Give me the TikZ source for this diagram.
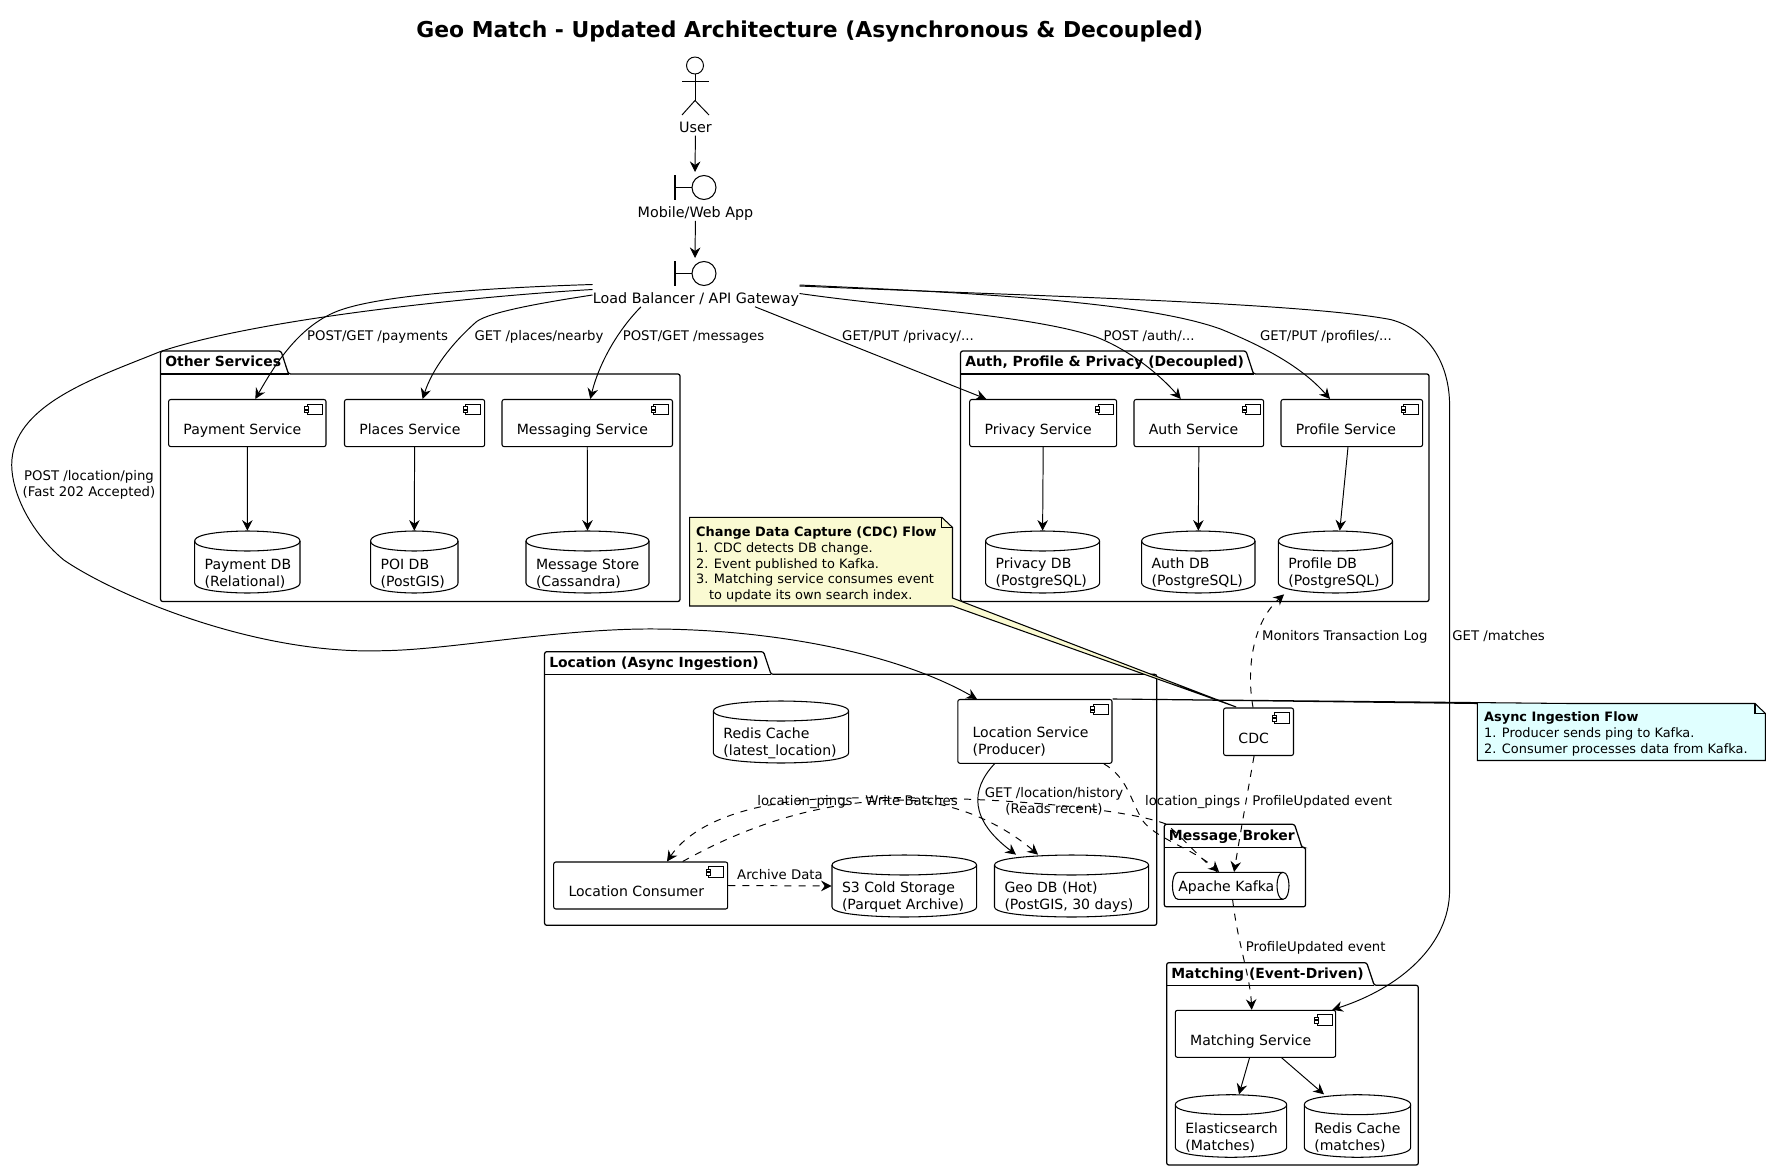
\documentclass[tikz,border=0pt]{standalone}
\usepackage{fontspec}
\setmainfont{DejaVu Sans}
\usetikzlibrary{arrows.meta,calc,fit}
\definecolor{noteyellow}{HTML}{FAFAD2}
\definecolor{notecyan}{HTML}{E0FFFF}
\tikzset{
  x=0.02cm,y=-0.02cm,
  edge/.style={line width=.55pt,-{Stealth[length=6pt,width=6pt,inset=2pt]}},
  dashedge/.style={edge,dash pattern=on 4pt off 4pt},
  shapeline/.style={line width=.6pt},
  comp/.style={draw,shapeline,rounded corners=1.2pt,inner sep=0pt},
  hull/.style={inner sep=0pt},
  boxtext/.style={font=\fontsize{8}{9.65}\selectfont,inner sep=0pt,align=left,anchor=west},
  actortext/.style={font=\fontsize{8.15}{9.65}\selectfont,inner sep=0pt,anchor=center},
  lab/.style={font=\fontsize{7.55}{9.07}\selectfont,inner sep=0pt,text height=.76em,text depth=.24em},
  labmulti/.style={font=\fontsize{7.55}{9.07}\selectfont,inner sep=0pt,align=center},
  notetext/.style={font=\fontsize{7.35}{9.07}\selectfont,inner sep=0pt,align=left,anchor=north west},
  pkgtitle/.style={font=\fontsize{7.93}{9.65}\bfseries\selectfont,inner sep=0pt,anchor=west},
}
% component box: [text drop], name, x1, y1, x2, y2, text
\newcommand{\compbox}[7][7.5]{
  \node[comp,fit={(#3,#4)(#5,#6)}] (#2) {};
  \draw[line width=.5pt,shift={(#2.north east)}] (-19.3,5) rectangle (-4.3,15.5);
  \draw[line width=.5pt,fill=white,shift={(#2.north east)}] (-21.7,7.5) rectangle (-17.7,10);
  \draw[line width=.5pt,fill=white,shift={(#2.north east)}] (-21.7,11) rectangle (-17.7,13.5);
  \node[boxtext] (#2text) at ($(#2.west)+(15,#1)$) {\vphantom{Ay}#7};
}
% database: name, x1, y1, x2, y2, text
\newcommand{\dbbox}[6]{
  \pgfmathsetmacro{\dbw}{#4-#2}
  \pgfmathsetmacro{\dbh}{#5-#3}
  \node[hull,fit={(#2,#3)(#4,#5)}] (#1) {};
  \draw[shapeline,shift={(#2,#3)}] (0,10) .. controls (0,0) and (\dbw/2,0) .. (\dbw/2,0)
    .. controls (\dbw/2,0) and (\dbw,0) .. (\dbw,10) -- (\dbw,\dbh-10)
    .. controls (\dbw,\dbh) and (\dbw/2,\dbh) .. (\dbw/2,\dbh)
    .. controls (\dbw/2,\dbh) and (0,\dbh) .. (0,\dbh-10) -- cycle;
  \draw[shapeline,shift={(#2,#3)}] (0,10) .. controls (0,20) and (\dbw/2,20) .. (\dbw/2,20)
    .. controls (\dbw/2,20) and (\dbw,20) .. (\dbw,10);
  \node[boxtext] (#1text) at ($(#1.west)+(10,11.5)$) {\vphantom{Ay}#6};
}
% package: name, x1, tab top, body top, x2, bottom, tab right, title
\newcommand{\pkgbox}[8]{
  \node[hull,fit={(#2,#3)(#5,#6)}] (#1) {};
  \draw[line width=.7pt,rounded corners=1.2pt] (#2,#4) -- (#2,#3) -- (#7,#3) -- (#7+7.5,#4) -- (#5,#4) -- (#5,#6) -- (#2,#6) -- cycle;
  \draw[line width=.7pt] (#2,#4) -- (#7+7.5,#4);
  \node[pkgtitle] (#1title) at (#2+4.3,#3/2+#4/2+0.5) {\vphantom{Ay}#8};
}
% boundary symbol: centre of the circle
\newcommand{\boundaryicon}[2]{
  \draw[line width=.6pt] (#1-20,#2-12.5) -- (#1-20,#2+12.5);
  \draw[line width=.6pt] (#1-20,#2) -- (#1-3,#2);
  \draw[line width=.6pt] (#1+9,#2) circle (12);
}
\begin{document}
\begin{tikzpicture}
  \useasboundingbox (0,0) rectangle (1771,1173);
  % Titel
  \node[font=\fontsize{12.45}{15}\bfseries\selectfont,inner sep=0pt] (title) at (809.8,32) {Geo Match - Updated Architecture (Asynchronous \& Decoupled)};

  % User
  \draw[line width=.55pt] (695,65.5) circle (8.5);
  \draw[line width=.55pt] (695,74) -- (695,100.5);
  \draw[line width=.55pt] (682,81) -- (709,81);
  \draw[line width=.55pt] (682,115) -- (695,100.5) -- (709,115);
  \node[actortext] (user) at (695.5,128.5) {\vphantom{Ay}User};
  % Mobile/Web App
  \boundaryicon{695}{187.5}
  \coordinate (apptop) at (695,172);
  \node[actortext] (app) at (695.5,213.5) {\vphantom{Ay}Mobile/Web App};
  % Load Balancer
  \boundaryicon{695}{273.5}
  \coordinate (gwtop) at (695,258);
  \node[actortext] (gw) at (696,299.5) {\vphantom{Ay}Load Balancer / API Gateway};

  % Other Services
  \pkgbox{other}{160.6}{351}{374}{680}{601.5}{281}{Other Services}
  \compbox{pay}{168.6}{399.5}{326}{446.6}{Payment Service}
  \compbox{places}{344.5}{399.5}{484.7}{446.6}{Places Service}
  \compbox{msg}{502}{399.5}{672.5}{446.6}{Messaging Service}
  \dbbox{paydb}{194.7}{531}{300}{593}{Payment DB\\(Relational)}
  \dbbox{poidb}{370.6}{531}{458}{593}{POI DB\\(PostGIS)}
  \dbbox{msgdb}{526}{531}{649}{593}{Message Store\\(Cassandra)}

  % Auth, Profile, Privacy
  \pkgbox{auth}{960.6}{351}{374}{1429}{601.5}{1246}{Auth, Profile \& Privacy (Decoupled)}
  \compbox{priv}{969.7}{399.5}{1116.7}{446.6}{Privacy Service}
  \compbox{authsvc}{1134}{399.5}{1263.7}{446.6}{Auth Service}
  \compbox{prof}{1281}{399.5}{1422.6}{446.6}{Profile Service}
  \dbbox{privdb}{985.6}{531}{1099.6}{593}{Privacy DB\\(PostgreSQL)}
  \dbbox{authdb}{1141.6}{531}{1255}{593}{Auth DB\\(PostgreSQL)}
  \dbbox{profdb}{1278.4}{531}{1392.5}{593}{Profile DB\\(PostgreSQL)}

  % Location
  \pkgbox{loc}{544.6}{651.7}{674.3}{1156.7}{925.3}{763.5}{Location (Async Ingestion)}
  \dbbox{redis}{713.4}{701}{848.6}{763}{Redis Cache\\(latest\_location)}
  \compbox[10.4]{locsvc}{957.8}{699.5}{1112}{763.3}{Location Service\\(Producer)}
  \compbox{cons}{553.7}{862}{727.7}{909}{Location Consumer}
  \dbbox{s3}{832}{855}{976.6}{917}{S3 Cold Storage\\(Parquet Archive)}
  \dbbox{geo}{994.5}{855}{1148.6}{917}{Geo DB (Hot)\\(PostGIS, 30 days)}

  % CDC
  \compbox{cdc}{1223.6}{708}{1293.5}{755.5}{CDC}

  % Message Broker
  \pkgbox{broker}{1164.3}{824.3}{847.5}{1305.5}{906.8}{1294.5}{Message Broker}
  \node[hull,fit={(1172.7,872.3)(1288.5,899.3)}] (kafka) {};
  \draw[shapeline] (1178,872.3) -- (1283,872.3) .. controls (1291,872.3) and (1291,899.3) .. (1283,899.3)
    -- (1178,899.3) .. controls (1170.6,899.3) and (1170.6,872.3) .. (1178,872.3) -- cycle;
  \draw[shapeline] (1283,872.3) .. controls (1275,872.3) and (1275,899.3) .. (1283,899.3);
  \node[boxtext] (kafkatext) at (1178,887.5) {\vphantom{Ay}Apache Kafka};

  % Matching
  \pkgbox{match}{1166.7}{962.7}{985.3}{1418.3}{1165}{1366.7}{Matching (Event-Driven)}
  \compbox{matchsvc}{1175.3}{1010.3}{1335.7}{1057.3}{Matching Service}
  \dbbox{elastic}{1175.3}{1094.7}{1286.7}{1157.3}{Elasticsearch\\(Matches)}
  \dbbox{rediscache}{1304.3}{1094.7}{1410.7}{1157.3}{Redis Cache\\(matches)}

  % Notes
  \node[hull,fit={(689.6,517.4)(952.5,606)}] (cdcnote) {};
  \draw[shapeline,fill=noteyellow] (689.6,517.4) -- (941.9,517.4) -- (952.5,527.4) -- (952.5,598)
    -- ($(cdc.north west)+(13,-0.5)$) -- (952.5,606) -- (689.6,606) -- cycle;
  \draw[shapeline] (941.9,517.4) -- (941.9,527.4) -- (952.5,527.4);
  \node[notetext] (cdcnotetext) at (695.8,526) {\textbf{Change Data Capture (CDC) Flow}\\1. CDC detects DB change.\\2. Event published to Kafka.\\3. Matching service consumes event\\\hspace*{1em}to update its own search index.};
  \node[hull,fit={(1477.4,703.5)(1765.4,760.5)}] (asyncnote) {};
  \draw[shapeline,fill=notecyan] (1477.4,703.5) -- (locsvc.north east) -- (1570,703.5) -- (1755,703.5) -- (1765.4,713.5)
    -- (1765.4,760.5) -- (1477.4,760.5) -- cycle;
  \draw[shapeline] (1755,703.5) -- (1755,713.5) -- (1765.4,713.5);
  \node[notetext] (asyncnotetext) at (1483.8,711) {\textbf{Async Ingestion Flow}\\1. Producer sends ping to Kafka.\\2. Consumer processes data from Kafka.};

  % Pfeile oben
  \draw[edge] (user) -- (apptop);
  \draw[edge] (app) -- (gwtop);
  \draw[edge] ($(gw.west)+(0,-15)$) .. controls (480,288) and (370,296) .. (333,313)
    .. controls (295,330) and (272,370) .. ($(pay.north)+(8,0)$);
  \draw[edge] ($(gw.west)+(0,-4.5)$) .. controls (540,303) and (490,312) .. (476.7,321.5)
    .. controls (450,345) and (432,370) .. ($(places.north)+(8,0)$);
  \draw[edge] ($(gw.south)+(-55,0)$) .. controls (620,328) and (600,360) .. ($(msg.north)+(3,0)$);
  \draw[edge] ($(gw.south)+(59,0)$) -- ($(priv.north)+(-57,0)$);
  \draw[edge] ($(gw.east)+(0,-6)$) .. controls (900,308) and (1030,315) .. (1095.7,336.8)
    .. controls (1130,350) and (1160,375) .. ($(authsvc.north)+(-18,0)$);
  \draw[edge] ($(gw.east)+(0,-14.5)$) .. controls (950,292) and (1140,300) .. (1220.5,329)
    .. controls (1260,345) and (1300,365) .. ($(prof.north)+(-21.8,0)$);
  \draw[edge] ($(gw.east)+(0,-13.5)$) .. controls (1000,295) and (1300,302) .. (1390.8,319.6)
    .. controls (1430,330) and (1449.6,365) .. (1449.6,405.7) -- (1449.6,890)
    .. controls (1449.6,945) and (1400,988) .. ($(matchsvc.north east)+(-4,0)$);
  % POST /location/ping
  \draw[edge] ($(gw.west)+(0,-10)$) .. controls (480,296) and (260,318) .. (160,351.7)
    .. controls (95,378) and (11.7,405) .. (11.7,465) .. controls (11.7,490) and (28,530) .. (63.8,560)
    .. controls (115,595) and (255,655) .. (382.6,650.7) .. controls (450,650) and (560,628) .. (657,629)
    .. controls (780,630) and (900,655) .. ($(locsvc.north)+(-58,0)$);

  % Services zu Datenbanken
  \draw[edge] (pay.south) -- (paydb.north);
  \draw[edge] (places.south) -- (poidb.north);
  \draw[edge] (msg.south) -- (msgdb.north);
  \draw[edge] (priv.south) -- (privdb.north);
  \draw[edge] (authsvc.south) -- (authdb.north);
  \draw[edge] ($(prof.south)+(-3.8,0)$) -- ($(profdb.north)+(4.3,0)$);
  \draw[edge] ($(matchsvc.south)+(-6,0)$) -- ($(elastic.north)+(8,0)$);
  \draw[edge] ($(matchsvc.south)+(26.2,0)$) -- ($(rediscache.north)+(-33.5,0)$);

  % Location
  \draw[edge] ($(locsvc.south)+(-40.4,0)$) .. controls (970,790) and (970,820) .. ($(geo.north)+(-55.5,0)$);
  \draw[dashedge] (cons.east) -- (s3.west);
  \draw[dashedge] ($(cons.north)+(42,0)$) .. controls (725,838) and (800,802) .. (900,800)
    .. controls (950,800) and (1000,822) .. ($(geo.north)+(-33.5,0)$);
  \draw[dashedge] ($(locsvc.south)+(69,0)$) .. controls (1128,778) and (1130,800) .. (1143,821)
    .. controls (1155,838) and (1195,850) .. ($(kafka.north)+(-11.5,0)$);
  \draw[dashedge] ($(kafka.north)+(-13.5,0)$) .. controls (1200,858) and (1180,835) .. (1166,824)
    .. controls (1130,810) and (1000,795) .. (851,798) .. controls (760,798) and (695,820) .. ($(cons.north)+(26.3,0)$);

  % CDC und Kafka
  \draw[dashedge] ($(cdc.north)+(-5.5,0)$) .. controls (1247,675) and (1250,625) .. ($(profdb.south west)+(6,1)$);
  \draw[dashedge] ($(cdc.south)+(-4.5,0)$) .. controls (1248,790) and (1240,835) .. ($(kafka.north)+(3.5,0)$);
  \draw[dashedge] ($(kafka.south)+(2,0)$) .. controls (1238,945) and (1250,975) .. ($(matchsvc.north)+(-3.8,0)$);

  % Beschriftung
  \node[lab] (lblpay) at (377.5,335.6) {POST/GET /payments};
  \node[lab] (lblplaces) at (539,335.6) {GET /places/nearby};
  \node[lab] (lblmsg) at (693.5,335.6) {POST/GET /messages};
  \node[lab] (lblpriv) at (908,335.6) {GET/PUT /privacy/...};
  \node[lab] (lblauth) at (1149,335.6) {POST /auth/...};
  \node[lab] (lblprof) at (1326,335.6) {GET/PUT /profiles/...};
  \node[labmulti] (lblping) at (89,484.5) {POST /location/ping\\(Fast 202 Accepted)};
  \node[lab,anchor=west] (lblmatches) at (1452,635.5) {GET /matches};
  \node[lab,anchor=west] (lblmon) at (1261.7,635.5) {Monitors Transaction Log};
  \node[lab] (lblpings) at (1192.7,801) {location\_pings};
  \node[lab,anchor=west] (lblevent) at (1252,801) {ProfileUpdated event};
  \node[lab,anchor=west] (lblevent2) at (1245.5,947) {ProfileUpdated event};
  \node[lab] (lblpings2) at (805,800.7) {location\_pings};
  \node[lab] (lblbatch) at (911.5,800.7) {Write Batches};
  \node[lab] (lblarch) at (780,875) {Archive Data};
  \node[labmulti] (lblhist) at (1054,801) {GET /location/history\\(Reads recent)};
\end{tikzpicture}
\end{document}
